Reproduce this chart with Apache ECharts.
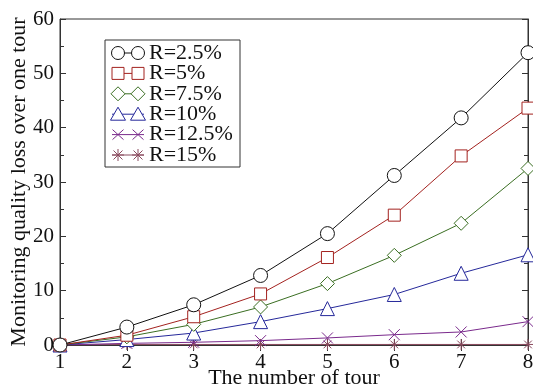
<!DOCTYPE html>
<html><head><meta charset="utf-8">
<script src="https://cdn.jsdelivr.net/npm/echarts@6/dist/echarts.min.js"></script>
<style>html,body{margin:0;padding:0;background:#fff}#c{width:533px;height:389px}</style>
</head><body><div id="c"></div>
<script>
const tours = [1, 2, 3, 4, 5, 6, 7, 8];
const seriesNames = ['R=2.5%', 'R=5%', 'R=7.5%', 'R=10%', 'R=12.5%', 'R=15%'];
const r25 = [0, 3.3, 7.4, 12.8, 20.5, 31.2, 41.8, 53.8];
const r5 = [0, 1.8, 5.2, 9.4, 16.1, 23.9, 34.8, 43.6];
const r75 = [0, 1.5, 3.8, 7.0, 11.3, 16.5, 22.4, 32.5];
const r10 = [0, 1.0, 2.2, 4.3, 6.7, 9.3, 13.2, 16.6];
const r125 = [0, 0.3, 0.5, 0.8, 1.3, 1.9, 2.4, 4.3];
const r15 = [0, 0.1, 0.1, 0.1, 0.1, 0.1, 0.1, 0.1];
const yTicks = [0, 10, 20, 30, 40, 50, 60];

const allValues = [r25, r5, r75, r10, r125, r15];
const colors = ['#111111', '#a3221f', '#3a6e22', '#25289a', '#7a2a8c', '#8a4a5e'];
const kinds = ['circle', 'rect', 'diamond', 'triangle', 'x', 'star'];
const symbols = ['circle', 'rect', 'diamond', 'triangle',
  'path://M0,0L10,10M10,0L0,10',
  'path://M5,0L5,10M0,5L10,5M1.5,1.5L8.5,8.5M8.5,1.5L1.5,8.5'];
const sizes = [14, 12, 14, 14, 11, 11];
const font = 'Liberation Serif';

const series = allValues.map((vals, i) => ({
  name: seriesNames[i],
  type: 'line',
  data: tours.map((t, j) => [t, vals[j]]),
  symbol: symbols[i],
  symbolSize: sizes[i],
  showAllSymbol: true,
  lineStyle: { color: colors[i], width: 1 },
  itemStyle: { color: i < 4 ? '#fff' : colors[i], borderColor: colors[i], borderWidth: 1 },
  emphasis: { disabled: true },
  z: 10 - i
}));

// legend drawn as graphic (two markers per entry, as in the reference)
function marker(kind, cx, cy, color) {
  const st = { fill: '#fff', stroke: color, lineWidth: 1 };
  const sl = { stroke: color, lineWidth: 1 };
  switch (kind) {
    case 'circle': return [{ type: 'circle', shape: { cx, cy, r: 6.5 }, style: st }];
    case 'rect': return [{ type: 'rect', shape: { x: cx - 6, y: cy - 6, width: 12, height: 12 }, style: st }];
    case 'diamond': return [{ type: 'polygon', shape: { points: [[cx, cy - 7], [cx + 7, cy], [cx, cy + 7], [cx - 7, cy]] }, style: st }];
    case 'triangle': return [{ type: 'polygon', shape: { points: [[cx, cy - 7], [cx + 7.5, cy + 6], [cx - 7.5, cy + 6]] }, style: st }];
    case 'x': return [
      { type: 'line', shape: { x1: cx - 5.5, y1: cy - 5, x2: cx + 5.5, y2: cy + 5 }, style: sl },
      { type: 'line', shape: { x1: cx + 5.5, y1: cy - 5, x2: cx - 5.5, y2: cy + 5 }, style: sl }];
    default: return [
      { type: 'line', shape: { x1: cx, y1: cy - 6, x2: cx, y2: cy + 6 }, style: sl },
      { type: 'line', shape: { x1: cx - 6, y1: cy, x2: cx + 6, y2: cy }, style: sl },
      { type: 'line', shape: { x1: cx - 4.5, y1: cy - 4.5, x2: cx + 4.5, y2: cy + 4.5 }, style: sl },
      { type: 'line', shape: { x1: cx + 4.5, y1: cy - 4.5, x2: cx - 4.5, y2: cy + 4.5 }, style: sl }];
  }
}
const lgX = 105, lgY = 40, lgW = 135, lgH = 127, rowH = 20.4, row0 = 53;
const legendEls = [{ type: 'rect', shape: { x: lgX, y: lgY, width: lgW, height: lgH },
  style: { fill: '#fff', stroke: '#333', lineWidth: 1 } }];
seriesNames.forEach((name, i) => {
  const cy = row0 + i * rowH;
  legendEls.push({ type: 'line', shape: { x1: 112, y1: cy, x2: 144, y2: cy }, style: { stroke: colors[i], lineWidth: 1 } });
  legendEls.push(...marker(kinds[i], 118, cy, colors[i]));
  legendEls.push(...marker(kinds[i], 138, cy, colors[i]));
  legendEls.push({ type: 'text', style: { text: name, x: 149, y: cy, verticalAlign: 'middle',
    font: '22px "Liberation Serif"', fill: '#111' } });
});

const chart = echarts.init(document.getElementById('c'));
chart.setOption({
  animation: false,
  backgroundColor: '#fff',
  grid: { left: 60, right: 5, top: 19, bottom: 44, show: true, borderColor: '#333', borderWidth: 1,
    containLabel: false, outerBoundsMode: 'none' },
  graphic: { elements: [{ type: 'group', z: 100, children: legendEls }] },
  xAxis: [{
    type: 'value', min: 1, max: 8, interval: 1,
    name: 'The number of tour', nameLocation: 'middle', nameGap: 22, nameMoveOverlap: false,
    nameTextStyle: { fontFamily: font, fontSize: 22, color: '#111' },
    axisLine: { show: true, onZero: false, lineStyle: { color: '#333' } },
    axisTick: { inside: true, length: 6, lineStyle: { color: '#333' } },
    axisLabel: { fontFamily: font, fontSize: 21, color: '#111', margin: 7 },
    splitLine: { show: false }
  }, {
    type: 'value', min: 1, max: 8, interval: 1, position: 'top',
    axisLine: { show: true, lineStyle: { color: '#333' } },
    axisTick: { inside: true, length: 6, lineStyle: { color: '#333' } },
    axisLabel: { show: false }, splitLine: { show: false }
  }],
  yAxis: [{
    type: 'value', min: 0, max: 60, interval: 10,
    name: 'Monitoring quality loss over one tour', nameLocation: 'middle', nameGap: 30, nameMoveOverlap: false,
    nameTextStyle: { fontFamily: font, fontSize: 22, color: '#111' },
    axisLine: { show: true, lineStyle: { color: '#333' } },
    axisTick: { inside: true, length: 6, lineStyle: { color: '#333' } },
    minorTick: { show: true, splitNumber: 2, length: 4, lineStyle: { color: '#333' } },
    axisLabel: { fontFamily: font, fontSize: 21, color: '#111', margin: 6,
      formatter: v => yTicks.includes(v) ? String(v) : '' },
    splitLine: { show: false }
  }, {
    type: 'value', min: 0, max: 60, interval: 10, position: 'right',
    axisLine: { show: true, lineStyle: { color: '#333' } },
    axisTick: { inside: true, length: 6, lineStyle: { color: '#333' } },
    minorTick: { show: true, splitNumber: 2, length: 4, lineStyle: { color: '#333' } },
    axisLabel: { show: false }, splitLine: { show: false }
  }],
  series: series
});
</script></body></html>
